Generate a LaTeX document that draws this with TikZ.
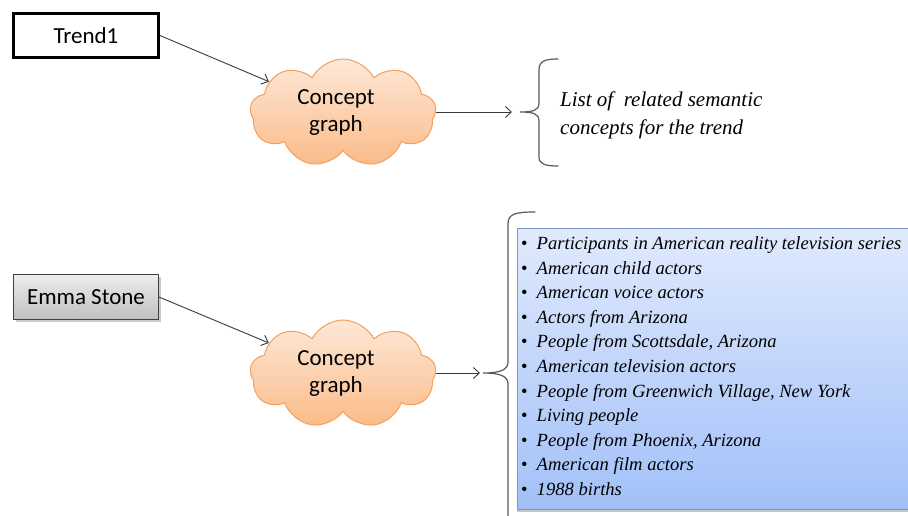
\documentclass[tikz,border=0pt]{standalone}
\usepackage{fontspec}
\setmainfont{Liberation Serif}
\newfontfamily\calib{Carlito}
\usetikzlibrary{shapes.symbols,shadows,arrows.meta}

\definecolor{cloudtop}{HTML}{FDE8D8}
\definecolor{cloudbot}{HTML}{FBBB88}
\definecolor{cloudline}{HTML}{F4A05C}
\definecolor{listtop}{HTML}{E0EAFD}
\definecolor{listbot}{HTML}{A2C0F8}
\definecolor{listline}{HTML}{7C98C8}
\definecolor{bracegray}{HTML}{5A5A5A}
\definecolor{arrowgray}{HTML}{3A3A3A}

\begin{document}
\begin{tikzpicture}[x=1pt,y=-1pt,
  conn/.style={draw=arrowgray, line width=0.9pt,
    -{Straight Barb[length=6pt,width=11pt]}},
  brace/.style={draw=bracegray, line width=1.2pt, line cap=round},
  boxlabel/.style={font=\calib\fontsize{23}{27}\selectfont, text=black},
  concept/.style={cloud, cloud puffs=9, cloud puff arc=125, aspect=1.7,
    minimum width=186pt, minimum height=108pt, inner sep=0pt,
    draw=cloudline, line width=1pt, top color=cloudtop, bottom color=cloudbot},
  itemtext/.style={font=\itshape\fontsize{18.6}{24}\selectfont, anchor=base west, inner sep=0pt},
  desctext/.style={font=\itshape\fontsize{21}{28}\selectfont, anchor=base west, inner sep=0pt}
]
\useasboundingbox (0,0) rectangle (908,515);
\clip (0,0) rectangle (908,515);
\fill[white] (0,0) rectangle (908,515);

% input boxes
\node[draw=black, line width=3pt, fill=white, minimum width=145pt, minimum height=44pt,
      boxlabel] (t1) at (86,35.5) {Trend1};
\node[draw=black!75, line width=1pt, top color=black!7, bottom color=black!25,
      minimum width=145pt, minimum height=45pt, boxlabel,
      drop shadow={shadow xshift=2pt, shadow yshift=-2pt, fill=black!40, opacity=0.5}]
      (es) at (86,297) {Emma Stone};

% concept graph clouds
\node[concept] (c1) at (343,113) {};
\node[boxlabel, align=center] (c1lbl) at (336,113) {Concept\\graph};
\node[concept] (c2) at (343,374) {};
\node[boxlabel, align=center] (c2lbl) at (336,374) {Concept\\graph};

\coordinate (b1in) at (512,112);
\coordinate (b2in) at (480,373);

\draw[conn] (t1.east) -- (c1);
\draw[conn] (es.east) -- (c2);
\draw[conn] (c1.east |- b1in) -- (b1in);
\draw[conn] (c2.east |- b2in) -- (b2in);

% upper brace
\draw[brace] (558,59) .. controls (545,59) and (539,61) .. (539,70) -- (539,103)
  .. controls (539,110) and (534,112) .. (520,112)
  .. controls (534,112) and (539,114) .. (539,121) -- (539,157)
  .. controls (539,164) and (545,166) .. (558,166);
\node[desctext] (d1) at (560,106) {List of\ \ related semantic};
\node[desctext] (d2) at (560,134) {concepts for the trend};

% lower brace
\draw[brace] (535,212) .. controls (515,212) and (508,214) .. (508,224) -- (508,362)
  .. controls (508,370) and (500,373) .. (483,373)
  .. controls (500,373) and (508,376) .. (508,384) -- (508,520);

% category list (runs on past the right edge, so no right border)
\node[top color=listtop, bottom color=listbot,
      minimum width=395pt, minimum height=281pt, anchor=north west, inner sep=0pt,
      drop shadow={shadow xshift=0pt, shadow yshift=-3pt, fill=black!45, opacity=0.5}]
      (lst) at (517,228) {};
\draw[listline, line width=1pt] (lst.north east) -- (lst.north west)
  -- (lst.south west) -- (lst.south east);
\foreach \t [count=\i] in {Participants in American reality television series,
    American child actors, American voice actors, Actors from Arizona,
    {People from Scottsdale, Arizona}, American television actors,
    {People from Greenwich Village, New York}, Living people,
    {People from Phoenix, Arizona}, American film actors, 1988 births}
  \node[itemtext] (item\i) at (521,249.5+24.6*\i-24.6)
    {\upshape\textbullet\hspace{9pt}\itshape\t};
\end{tikzpicture}
\end{document}
